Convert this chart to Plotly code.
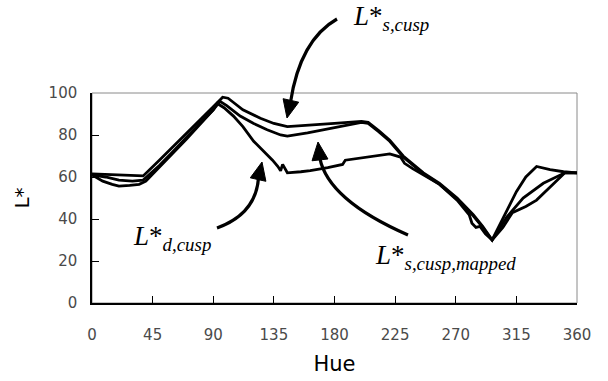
import plotly.graph_objects as go
import math

# ---- data ----
s_hue = [0, 10, 20, 30, 38, 50, 60, 70, 80, 90, 97, 101, 106, 112, 125, 135, 145, 160, 180, 200, 205, 213, 221, 231, 246, 258, 271, 283, 290, 297, 305, 315, 322, 330, 340, 350, 360]
s_L = [61.5, 61.2, 60.8, 60.5, 60.5, 68, 74.5, 81, 87, 93.5, 98, 97.5, 95, 92, 88, 85.5, 84, 84.5, 85.5, 86.5, 86, 82, 77.5, 70, 62, 57, 50, 42, 36.5, 30, 40, 53, 60, 65, 63.5, 62.5, 62]

m_hue = [0, 10, 20, 30, 38, 50, 60, 70, 80, 90, 95, 100, 110, 120, 130, 140, 145, 160, 180, 200, 205, 213, 221, 231, 246, 258, 271, 283, 290, 297, 308, 320, 335, 351, 360]
m_L = [61, 60, 58.5, 58, 58.5, 65.5, 72, 79, 85.5, 92, 96, 94, 89, 85.5, 82.5, 80, 79.5, 81, 83.5, 86, 85.5, 81.5, 77, 69.5, 61.5, 56.5, 49.5, 41.5, 36, 30, 41, 50, 57, 62, 62]

d_hue = [0, 8, 15, 20, 28, 35, 40, 50, 60, 70, 80, 90, 93, 98, 105, 112, 120, 128, 134, 138, 140, 141.5, 143, 145, 155, 162, 175, 186, 188, 200, 210, 221, 229, 232, 238, 246, 258, 271, 280, 282, 285, 288, 292, 297, 305, 312, 322, 330, 340, 351, 360]
d_L = [61, 58, 56.5, 55.7, 56, 56.5, 58, 64.5, 71, 78, 85, 92, 95, 93, 89, 84, 77, 72, 68, 65, 63, 66, 64, 62, 62.5, 63, 64.5, 66, 68, 69, 70, 71, 69.5, 66.5, 64, 61, 56.5, 49, 42, 38, 36, 36.5, 33, 30, 36, 43, 46, 49, 55, 62, 62]

x_ticks = [0, 45, 90, 135, 180, 225, 270, 315, 360]
y_ticks = [0, 20, 40, 60, 80, 100]

W, H = 608, 381
ML, MR, MT, MB = 92, 31, 93, 78
PW, PH = W - ML - MR, H - MT - MB


def px(x, y):
    return (x - ML) / PW, (H - MB - y) / PH


fig = go.Figure()
for hx, ly in [(d_hue, d_L), (m_hue, m_L), (s_hue, s_L)]:
    fig.add_trace(go.Scatter(x=hx, y=ly, mode="lines",
                             line=dict(color="black", width=2.8),
                             showlegend=False, hoverinfo="skip"))

shapes = []
shapes.append(dict(type="rect", xref="paper", yref="paper", x0=0, y0=0, x1=1, y1=1,
                   line=dict(color="#8a8a8a", width=1), layer="below"))


def arrow(p0, c, p1, tip):
    dx, dy = tip[0] - p1[0], tip[1] - p1[1]
    n = math.hypot(dx, dy)
    ux, uy = dx / n, dy / n
    L, hw = 18, 8
    bx, by = tip[0] - ux * L, tip[1] - uy * L
    a = px(*p0); b = px(*c); e = px(bx + ux * 2, by + uy * 2)
    shapes.append(dict(type="path", xref="paper", yref="paper",
                       path=f"M {a[0]},{a[1]} Q {b[0]},{b[1]} {e[0]},{e[1]}",
                       line=dict(color="black", width=3.2)))
    t = px(*tip)
    l = px(bx - uy * hw, by + ux * hw)
    r = px(bx + uy * hw, by - ux * hw)
    shapes.append(dict(type="path", xref="paper", yref="paper",
                       path=f"M {t[0]},{t[1]} L {l[0]},{l[1]} L {r[0]},{r[1]} Z",
                       fillcolor="black", line=dict(color="black", width=1)))


arrow((337, 19), (300, 40), (291, 100), (287, 118))
arrow((217, 228), (256, 214), (258, 180), (262, 162))
arrow((408, 235), (328, 200), (320, 160), (318, 142))

annotations = []
for x, y, txt in [(351, 18, "<i>L</i>*<sub><i>s,cusp</i></sub>"),
                  (131, 238, "<i>L</i>*<sub><i>d,cusp</i></sub>"),
                  (373, 257, "<i>L</i>*<sub><i>s,cusp,mapped</i></sub>")]:
    ax, ay = px(x, y)
    annotations.append(dict(x=ax, y=ay, xref="paper", yref="paper", text=txt,
                            showarrow=False, xanchor="left", yanchor="middle",
                            font=dict(family="Liberation Serif", size=27, color="black")))

fig.update_layout(
    width=W, height=H,
    margin=dict(l=ML, r=MR, t=MT, b=MB, pad=0, autoexpand=False),
    paper_bgcolor="white", plot_bgcolor="white",
    shapes=shapes, annotations=annotations,
    xaxis=dict(range=[0, 360], tickvals=x_ticks, ticks="inside", ticklen=7,
               tickcolor="black", showline=True, linecolor="black", linewidth=1.5,
               showgrid=False, zeroline=False, ticklabelstandoff=17, automargin=False,
               tickfont=dict(family="DejaVu Sans", size=15, color="#4a4a4a"),
               title=dict(text="Hue", font=dict(family="DejaVu Sans", size=21, color="black"),
                          standoff=14)),
    yaxis=dict(range=[0, 100], tickvals=y_ticks, ticks="inside", ticklen=7,
               tickcolor="black", showline=True, linecolor="black", linewidth=1.5,
               showgrid=False, zeroline=False, ticklabelstandoff=10, automargin=False,
               tickfont=dict(family="DejaVu Sans", size=15, color="#4a4a4a"),
               title=dict(text="L*", font=dict(family="DejaVu Sans", size=20, color="black"),
                          standoff=14)),
)

fig.write_html("out.html")
